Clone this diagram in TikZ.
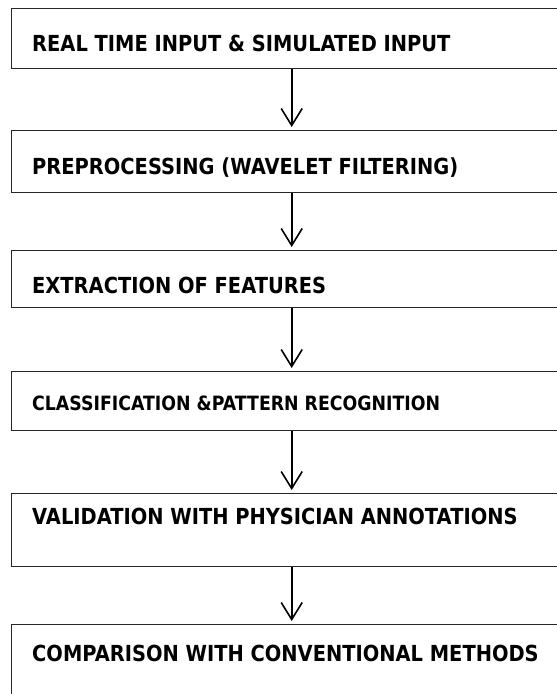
\documentclass[tikz,border=0pt]{standalone}
\usepackage{fontspec}
\setmainfont{DejaVu Sans}[FakeStretch=0.88]
\usetikzlibrary{arrows.meta}
\begin{document}
\begin{tikzpicture}[x=1pt,y=-1pt,
  box/.style={draw=black!85, line width=1.4pt, rectangle, inner sep=0pt, anchor=north west, minimum width=560pt},
  txt/.style={anchor=base west, inner sep=0pt, font=\fontsize{22.1}{26}\selectfont\bfseries},
  txtsmall/.style={txt, font=\fontsize{19.7}{24}\selectfont\bfseries},
  flow/.style={-{Straight Barb[length=17pt,width=21pt,line width=1.6pt]}, line width=1.6pt, shorten >=3pt}]
\useasboundingbox (0,0) rectangle (557,694);
\node[box, minimum height=60pt] (b1) at (11,8) {};
\node[box, minimum height=62pt] (b2) at (11,130) {};
\node[box, minimum height=57pt] (b3) at (11,250) {};
\node[box, minimum height=59pt] (b4) at (11,371) {};
\node[box, minimum height=73pt] (b5) at (11,493) {};
\node[box, minimum height=86pt] (b6) at (11,624) {};
\node[txt] (t1) at (32,51) {REAL TIME INPUT \& SIMULATED INPUT};
\node[txt] (t2) at (32,174) {PREPROCESSING (WAVELET FILTERING)};
\node[txt] (t3) at (32,293) {EXTRACTION OF FEATURES};
\node[txtsmall] (t4) at (32,410) {CLASSIFICATION \&PATTERN RECOGNITION};
\node[txt] (t5) at (32,524) {VALIDATION WITH PHYSICIAN ANNOTATIONS};
\node[txt] (t6) at (32,661) {COMPARISON WITH CONVENTIONAL METHODS};
\draw[flow] (b1.south) -- (b2.north);
\draw[flow] (b2.south) -- (b3.north);
\draw[flow] (b3.south) -- (b4.north);
\draw[flow] (b4.south) -- (b5.north);
\draw[flow] (b5.south) -- (b6.north);
\end{tikzpicture}
\end{document}
